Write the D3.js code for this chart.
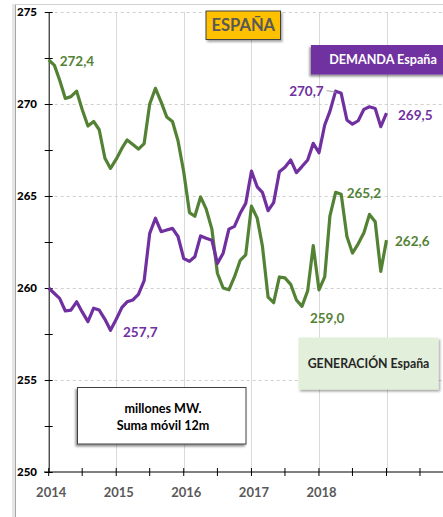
<!DOCTYPE html>
<html><head><meta charset="utf-8">
<script src="https://cdn.jsdelivr.net/npm/d3@7"></script>
<style>
html,body{margin:0;padding:0;background:#fff;}
svg{display:block;font-family:Lato,"Liberation Sans",Arial,sans-serif;}
</style></head>
<body>
<svg id="chart" width="443" height="517"></svg>
<script>
// ---------------- data ----------------
const startMonth = "2014-01";
const endMonth = "2019-01";
const yearLabels = ["2014", "2015", "2016", "2017", "2018"];
const yTickLabels = [250, 255, 260, 265, 270, 275];
const generacion = [
  272.4, 272.1, 271.3, 270.3, 270.4, 270.7, 269.7, 268.8, 269.05, 268.6,
  267.05, 266.5, 267.0, 267.6, 268.05, 267.8, 267.55, 267.85, 270.0, 270.85,
  270.1, 269.3, 269.05, 268.0, 266.3, 264.1, 263.9, 264.95, 264.3, 263.2,
  260.8, 260.0, 259.9, 260.6, 261.5, 261.8, 264.45, 263.8, 262.3, 259.5,
  259.2, 260.6, 260.55, 260.2, 259.35, 259.0, 259.85, 262.3, 259.9, 260.6,
  263.9, 265.2, 265.1, 262.8, 261.9, 262.4, 263.0, 264.0, 263.6, 260.9,
  262.6
];
const demanda = [
  260.0, 259.7, 259.44, 258.75, 258.8, 259.25, 258.7, 258.17, 258.9, 258.8,
  258.3, 257.7, 258.3, 258.95, 259.25, 259.35, 259.65, 260.4, 262.97, 263.79,
  263.06, 263.15, 263.24, 262.8, 261.6, 261.45, 261.7, 262.83, 262.7, 262.6,
  261.34, 261.89, 263.2, 263.35, 264.06, 264.6, 266.35, 265.5, 265.2, 264.2,
  264.64, 266.32, 266.56, 266.96, 266.27, 266.6, 266.96, 267.86, 267.35, 268.86,
  269.6, 270.7, 270.58, 269.13, 268.9, 269.09, 269.71, 269.85, 269.76, 268.77,
  269.5
];
const seriesNames = ["DEMANDA España", "GENERACIÓN España"];
const title = "ESPAÑA";
const unitLines = ["millones MW.", "Suma móvil 12m"];
// labels: [series, index, text]
const valueLabels = [
  ["gen", 0, "272,4"], ["dem", 51, "270,7"], ["dem", 60, "269,5"], ["dem", 11, "257,7"],
  ["gen", 51, "265,2"], ["gen", 60, "262,6"], ["gen", 45, "259,0"]
];

// ---------------- drawing ----------------
const GREEN = "#548235", PURPLE = "#7030A0";
const parse = d3.timeParse("%Y-%m");
const months = d3.timeMonth.range(parse(startMonth), d3.timeMonth.offset(parse(endMonth), 1));
const svg = d3.select("#chart");

const defs = svg.append("defs");
const sh = defs.append("filter").attr("id", "sh").attr("x", "-20%").attr("y", "-20%").attr("width", "140%").attr("height", "160%");
sh.append("feDropShadow").attr("dx", -1.5).attr("dy", 2).attr("stdDeviation", 1.2).attr("flood-color", "#000").attr("flood-opacity", 0.45);
const sh2 = defs.append("filter").attr("id", "sh2").attr("x", "-20%").attr("y", "-20%").attr("width", "140%").attr("height", "160%");
sh2.append("feDropShadow").attr("dx", 1.5).attr("dy", 2).attr("stdDeviation", 1.2).attr("flood-color", "#000").attr("flood-opacity", 0.35);

// outer frame
svg.append("rect").attr("x", 12).attr("y", 4).attr("width", 3).attr("height", 520).attr("fill", "#e6e6e6");
svg.append("line").attr("x1", 15.5).attr("x2", 15.5).attr("y1", 4).attr("y2", 517).attr("stroke", "#a6a6a6");
svg.append("line").attr("x1", 15).attr("x2", 443).attr("y1", 4.5).attr("y2", 4.5).attr("stroke", "#d0d0d0");

const x = d3.scaleTime().domain([parse(startMonth), parse(endMonth)]).range([48.7, 386.5]);
const y = d3.scaleLinear().domain([250, 275]).range([472, 12]);
const xEnd = 443;

// vertical year gridlines
const yearStarts = d3.timeYear.range(parse("2015-01"), parse("2020-01"));
svg.append("g").selectAll("line").data(yearStarts).join("line")
  .attr("x1", d => Math.round(x(d)) + 0.5).attr("x2", d => Math.round(x(d)) + 0.5)
  .attr("y1", y(275)).attr("y2", y(250))
  .attr("stroke", "#d9d9d9").attr("stroke-width", 1);

// horizontal dashed gridlines
svg.append("g").selectAll("line").data(yTickLabels.filter(v => v > 250)).join("line")
  .attr("x1", x.range()[0]).attr("x2", xEnd)
  .attr("y1", d => Math.round(y(d)) + 0.5).attr("y2", d => Math.round(y(d)) + 0.5)
  .attr("stroke", "#d0d0d0").attr("stroke-dasharray", "3,3");

// y axis
const yAxis = d3.axisLeft(y).tickValues(d3.range(250, 275.1, 2.5)).tickSizeInner(4).tickSizeOuter(0).tickFormat("");
const gy = svg.append("g").attr("transform", `translate(${x.range()[0]},0)`).call(yAxis);
gy.select(".domain").attr("stroke", "#000");
gy.selectAll(".tick line").attr("x1", -4).attr("x2", 4).attr("stroke", "#000");
svg.append("g").selectAll("text").data(yTickLabels).join("text")
  .attr("x", 37).attr("y", d => y(d)).attr("dy", "0.35em")
  .attr("text-anchor", "end").attr("font-weight", 900).attr("font-size", 11.5)
  .attr("fill", "#000").text(d => d);

// x axis
const tickDates = d3.timeMonth.every(6).range(parse("2014-01"), parse("2019-08"));
svg.append("line").attr("x1", 44).attr("x2", xEnd).attr("y1", y(250)).attr("y2", y(250)).attr("stroke", "#000");
svg.append("g").selectAll("line").data(tickDates).join("line")
  .attr("x1", d => x(d)).attr("x2", d => x(d))
  .attr("y1", y(250) - 4).attr("y2", y(250) + 4).attr("stroke", "#000");
svg.append("g").selectAll("text").data(yearLabels).join("text")
  .attr("x", d => x(parse(d + "-01")) + 2.5).attr("y", 492).attr("dy", "0.35em")
  .attr("text-anchor", "middle").attr("font-weight", "bold").attr("font-size", 13)
  .attr("fill", "#595959").text(d => d);

// lines
const line = d3.line().x((d, i) => x(months[i])).y(d => y(d));
svg.append("path").datum(generacion).attr("d", line).attr("fill", "none")
  .attr("stroke", GREEN).attr("stroke-width", 3.2).attr("stroke-linejoin", "round");
svg.append("path").datum(demanda).attr("d", line).attr("fill", "none")
  .attr("stroke", PURPLE).attr("stroke-width", 3.2).attr("stroke-linejoin", "round");

// value labels
const offsets = {
  "272,4": [11, 1.5, "start"], "270,7": [-12, 0.5, "end"], "269,5": [11.5, 2, "start"],
  "257,7": [12.5, 1.5, "start"], "265,2": [11, 1, "start"], "262,6": [8.5, 1.5, "start"],
  "259,0": [8, 12, "start"]
};
valueLabels.forEach(([s, i, t]) => {
  const v = (s === "gen" ? generacion : demanda)[i];
  const o = offsets[t];
  svg.append("text").attr("x", x(months[i]) + o[0]).attr("y", y(v) + o[1]).attr("dy", "0.35em")
    .attr("text-anchor", o[2]).attr("font-weight", "bold").attr("font-size", 13.5)
    .attr("fill", s === "gen" ? GREEN : PURPLE).text(t);
});
// leader for 270,7
svg.append("line").attr("x1", x(months[51]) - 9).attr("x2", x(months[51]))
  .attr("y1", y(270.7) - 0.5).attr("y2", y(270.7) + 1).attr("stroke", "#a6a6a6").attr("stroke-width", 1);

// ESPAÑA title box
svg.append("rect").attr("x", 206).attr("y", 11).attr("width", 74.5).attr("height", 28.5)
  .attr("fill", "#FFC000").attr("stroke", "#404040").attr("stroke-width", 1).attr("filter", "url(#sh2)");
svg.append("text").attr("x", 243.3).attr("y", 25.5).attr("dy", "0.35em").attr("text-anchor", "middle")
  .attr("font-weight", "bold").attr("font-size", 16.5).attr("fill", "#595959").text(title);

// DEMANDA legend box
svg.append("rect").attr("x", 311).attr("y", 45).attr("width", 140).attr("height", 29.5)
  .attr("fill", PURPLE).attr("filter", "url(#sh)");
svg.append("text").attr("x", 383).attr("y", 60).attr("dy", "0.35em").attr("text-anchor", "middle")
  .attr("font-weight", "bold").attr("font-size", 12.6).attr("fill", "#fff").text(seriesNames[0]);

// GENERACION legend box
svg.append("rect").attr("x", 298.5).attr("y", 337.5).attr("width", 140).attr("height", 52)
  .attr("fill", "#E2EFDA").attr("filter", "url(#sh2)");
svg.append("text").attr("x", 368.5).attr("y", 363.5).attr("dy", "0.35em").attr("text-anchor", "middle")
  .attr("font-weight", "bold").attr("font-size", 12.3).attr("fill", "#262626").text(seriesNames[1]);

// unit box
svg.append("rect").attr("x", 77.5).attr("y", 387.5).attr("width", 168.5).attr("height", 56.5)
  .attr("fill", "#fff").attr("stroke", "#404040").attr("stroke-width", 1).attr("filter", "url(#sh)");
svg.append("g").selectAll("text").data(unitLines).join("text")
  .attr("x", 163).attr("y", (d, i) => 408.5 + i * 16.8).attr("dy", "0.35em").attr("text-anchor", "middle")
  .attr("font-weight", "bold").attr("font-size", 12.6).attr("fill", "#000").text(d => d);
</script>
</body></html>
